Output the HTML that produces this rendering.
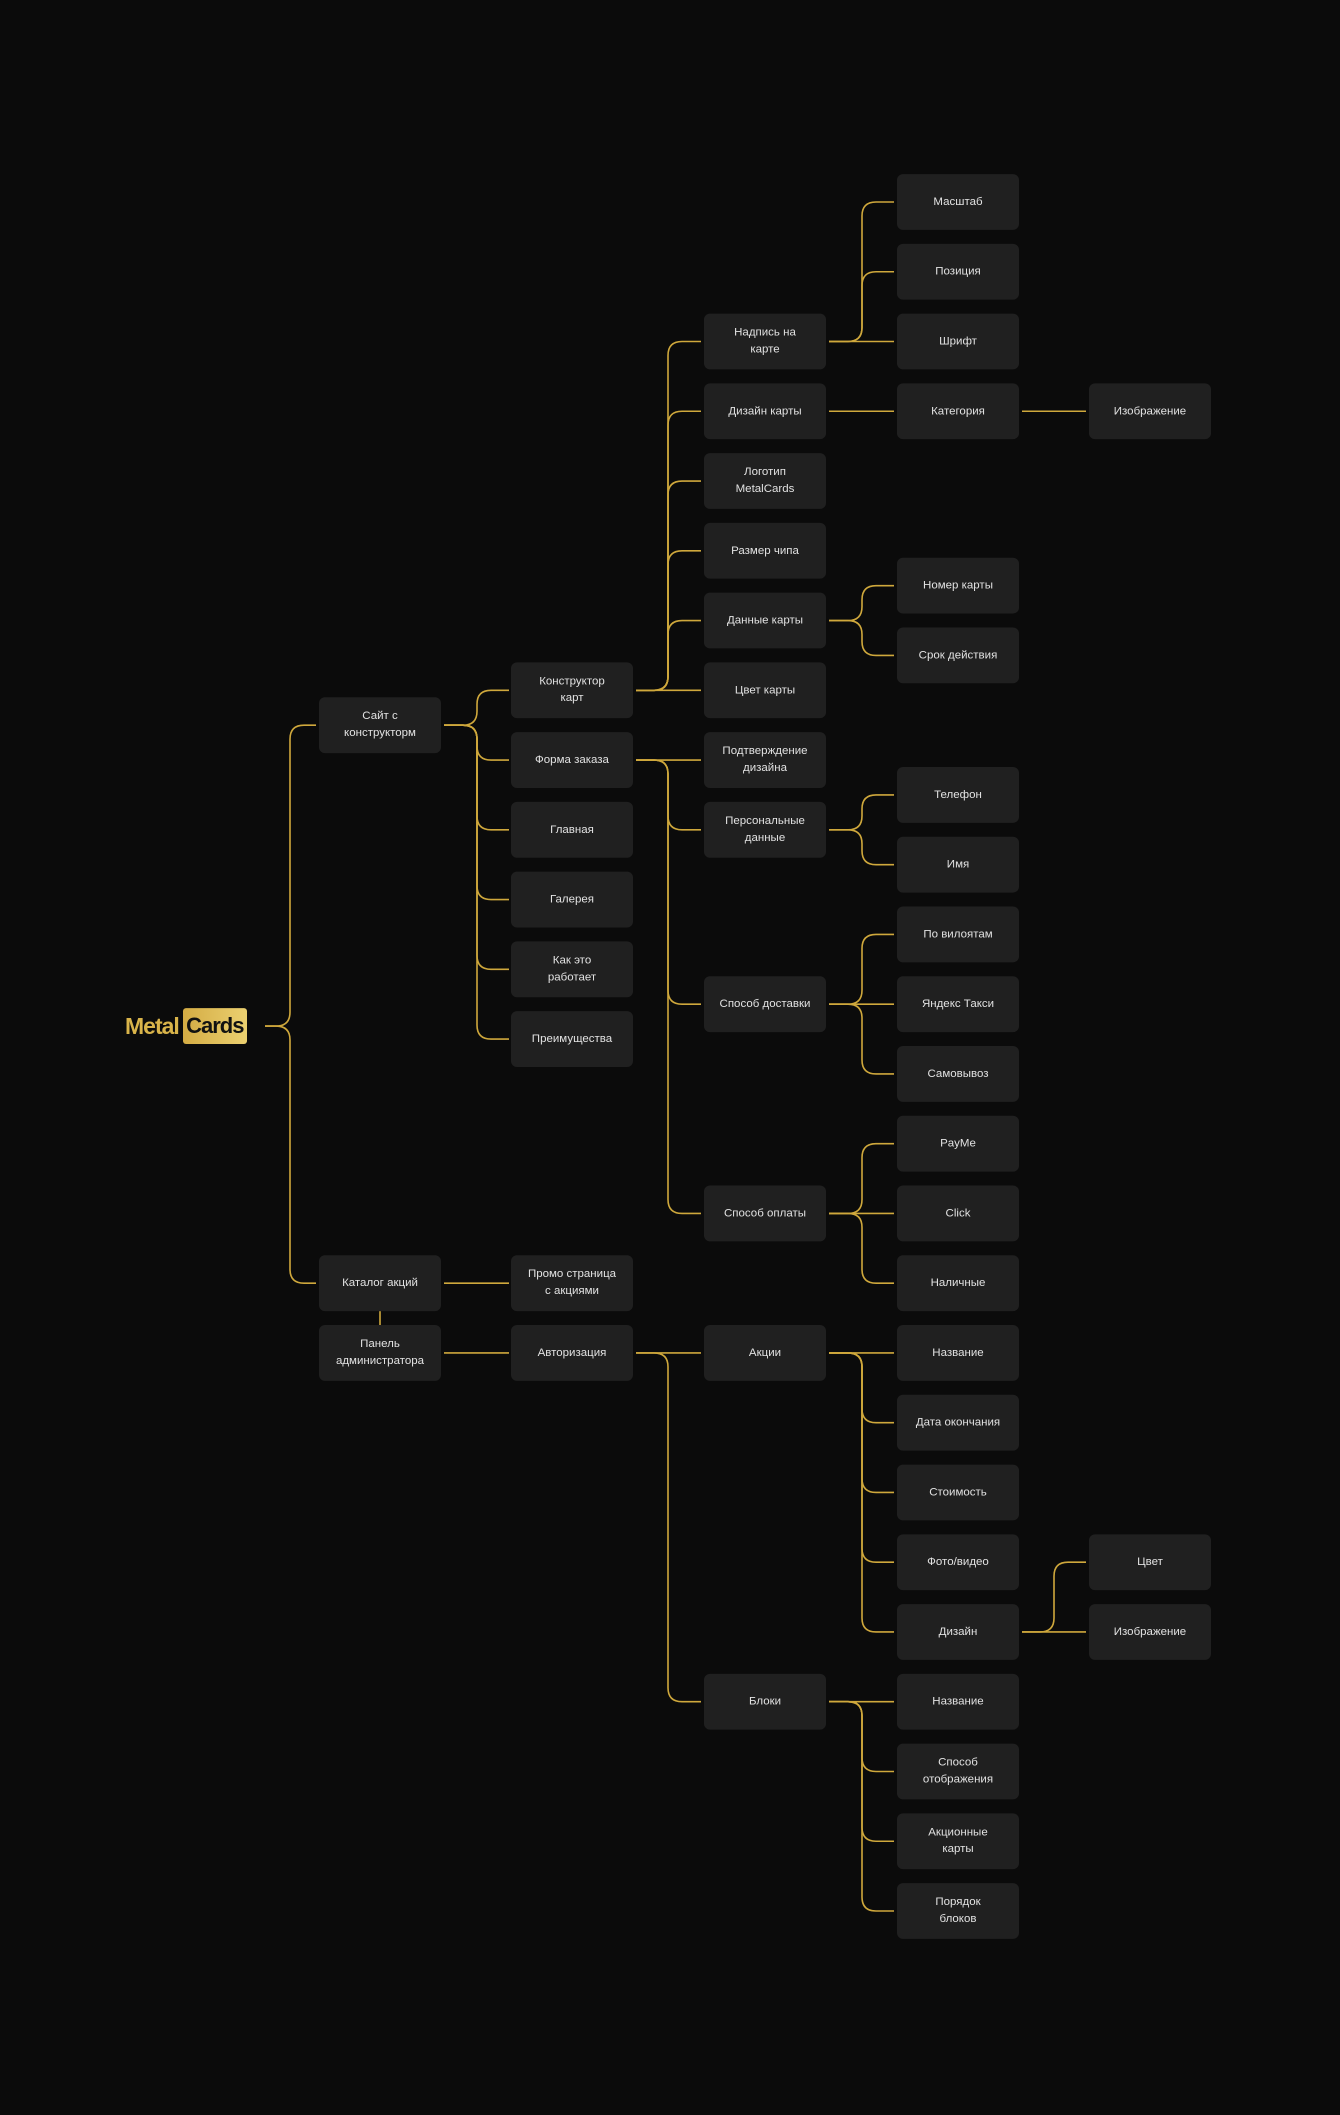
<!DOCTYPE html>
<html><head><meta charset="utf-8"><style>
html,body{margin:0;padding:0;background:#0b0b0b;}
body{width:1340px;height:2115px;position:relative;overflow:hidden;font-family:"Liberation Sans",sans-serif;}
#w{position:absolute;left:0;top:0;width:1340px;height:2115px;transform:scaleY(0.9965);transform-origin:0 202px;}
.b{position:absolute;width:122px;height:56px;background:#202020;border-radius:6px;color:#e2e2e2;font-size:11.5px;line-height:17px;display:flex;align-items:center;justify-content:center;text-align:center;}
svg{position:absolute;left:0;top:0;}
.logo{position:absolute;left:125px;top:1011px;height:36px;display:flex;align-items:center;font-weight:bold;font-size:22px;letter-spacing:-1px;}
.logo .m{color:#d9b44a;margin-right:4px;font-size:23px;}
.logo .c{background:linear-gradient(90deg,#d4ac44,#ebd070);color:#111;height:36px;width:64px;border-radius:3px;display:flex;align-items:center;justify-content:center;}
</style></head><body><div id="w">
<svg width="1340" height="2115" fill="none" stroke="#cfa83c" stroke-width="1.6">
<path d="M265 1029H276Q290 1029 290 1015V741Q290 727 304 727H316"/>
<path d="M265 1029H276Q290 1029 290 1043V1273Q290 1287 304 1287H316"/>
<path d="M444 727H463Q477 727 477 713V706Q477 692 491 692H509"/>
<path d="M444 727H463Q477 727 477 741V748Q477 762 491 762H509"/>
<path d="M444 727H463Q477 727 477 741V818Q477 832 491 832H509"/>
<path d="M444 727H463Q477 727 477 741V888Q477 902 491 902H509"/>
<path d="M444 727H463Q477 727 477 741V958Q477 972 491 972H509"/>
<path d="M444 727H463Q477 727 477 741V1028Q477 1042 491 1042H509"/>
<path d="M636 692H654Q668 692 668 678V356Q668 342 682 342H701"/>
<path d="M636 692H654Q668 692 668 678V426Q668 412 682 412H701"/>
<path d="M636 692H654Q668 692 668 678V496Q668 482 682 482H701"/>
<path d="M636 692H654Q668 692 668 678V566Q668 552 682 552H701"/>
<path d="M636 692H654Q668 692 668 678V636Q668 622 682 622H701"/>
<path d="M636 692H701"/>
<path d="M636 762H701"/>
<path d="M636 762H654Q668 762 668 776V818Q668 832 682 832H701"/>
<path d="M636 762H654Q668 762 668 776V993Q668 1007 682 1007H701"/>
<path d="M636 762H654Q668 762 668 776V1203Q668 1217 682 1217H701"/>
<path d="M829 342H848Q862 342 862 328V216Q862 202 876 202H894"/>
<path d="M829 342H848Q862 342 862 328V286Q862 272 876 272H894"/>
<path d="M829 342H894"/>
<path d="M829 412H894"/><path d="M1022 412H1086"/>
<path d="M829 622H848Q862 622 862 608V601Q862 587 876 587H894"/>
<path d="M829 622H848Q862 622 862 636V643Q862 657 876 657H894"/>
<path d="M829 832H848Q862 832 862 818V811Q862 797 876 797H894"/>
<path d="M829 832H848Q862 832 862 846V853Q862 867 876 867H894"/>
<path d="M829 1007H848Q862 1007 862 993V951Q862 937 876 937H894"/>
<path d="M829 1007H894"/>
<path d="M829 1007H848Q862 1007 862 1021V1063Q862 1077 876 1077H894"/>
<path d="M829 1217H848Q862 1217 862 1203V1161Q862 1147 876 1147H894"/>
<path d="M829 1217H894"/>
<path d="M829 1217H848Q862 1217 862 1231V1273Q862 1287 876 1287H894"/>
<path d="M444 1287H509"/><path d="M444 1357H509"/><path d="M380 1315V1329"/>
<path d="M636 1357H701"/>
<path d="M636 1357H654Q668 1357 668 1371V1693Q668 1707 682 1707H701"/>
<path d="M829 1357H894"/>
<path d="M829 1357H848Q862 1357 862 1371V1413Q862 1427 876 1427H894"/>
<path d="M829 1357H848Q862 1357 862 1371V1483Q862 1497 876 1497H894"/>
<path d="M829 1357H848Q862 1357 862 1371V1553Q862 1567 876 1567H894"/>
<path d="M829 1357H848Q862 1357 862 1371V1623Q862 1637 876 1637H894"/>
<path d="M829 1707H894"/>
<path d="M829 1707H848Q862 1707 862 1721V1763Q862 1777 876 1777H894"/>
<path d="M829 1707H848Q862 1707 862 1721V1833Q862 1847 876 1847H894"/>
<path d="M829 1707H848Q862 1707 862 1721V1903Q862 1917 876 1917H894"/>
<path d="M1022 1637H1040Q1054 1637 1054 1623V1581Q1054 1567 1068 1567H1086"/>
<path d="M1022 1637H1086"/>
</svg>
<div class="logo"><span class="m">Metal</span><span class="c">Cards</span></div>

<div class="b" style="left:319px;top:699px">Сайт с<br>конструкторм</div>
<div class="b" style="left:319px;top:1259px">Каталог акций</div>
<div class="b" style="left:319px;top:1329px">Панель<br>администратора</div>

<div class="b" style="left:511px;top:664px">Конструктор<br>карт</div>
<div class="b" style="left:511px;top:734px">Форма заказа</div>
<div class="b" style="left:511px;top:804px">Главная</div>
<div class="b" style="left:511px;top:874px">Галерея</div>
<div class="b" style="left:511px;top:944px">Как это<br>работает</div>
<div class="b" style="left:511px;top:1014px">Преимущества</div>
<div class="b" style="left:511px;top:1259px">Промо страница<br>с акциями</div>
<div class="b" style="left:511px;top:1329px">Авторизация</div>

<div class="b" style="left:704px;top:314px">Надпись на<br>карте</div>
<div class="b" style="left:704px;top:384px">Дизайн карты</div>
<div class="b" style="left:704px;top:454px">Логотип<br>MetalCards</div>
<div class="b" style="left:704px;top:524px">Размер чипа</div>
<div class="b" style="left:704px;top:594px">Данные карты</div>
<div class="b" style="left:704px;top:664px">Цвет карты</div>
<div class="b" style="left:704px;top:734px">Подтверждение<br>дизайна</div>
<div class="b" style="left:704px;top:804px">Персональные<br>данные</div>
<div class="b" style="left:704px;top:979px">Способ доставки</div>
<div class="b" style="left:704px;top:1189px">Способ оплаты</div>
<div class="b" style="left:704px;top:1329px">Акции</div>
<div class="b" style="left:704px;top:1679px">Блоки</div>

<div class="b" style="left:897px;top:174px">Масштаб</div>
<div class="b" style="left:897px;top:244px">Позиция</div>
<div class="b" style="left:897px;top:314px">Шрифт</div>
<div class="b" style="left:897px;top:384px">Категория</div>
<div class="b" style="left:897px;top:559px">Номер карты</div>
<div class="b" style="left:897px;top:629px">Срок действия</div>
<div class="b" style="left:897px;top:769px">Телефон</div>
<div class="b" style="left:897px;top:839px">Имя</div>
<div class="b" style="left:897px;top:909px">По вилоятам</div>
<div class="b" style="left:897px;top:979px">Яндекс Такси</div>
<div class="b" style="left:897px;top:1049px">Самовывоз</div>
<div class="b" style="left:897px;top:1119px">PayMe</div>
<div class="b" style="left:897px;top:1189px">Click</div>
<div class="b" style="left:897px;top:1259px">Наличные</div>
<div class="b" style="left:897px;top:1329px">Название</div>
<div class="b" style="left:897px;top:1399px">Дата окончания</div>
<div class="b" style="left:897px;top:1469px">Стоимость</div>
<div class="b" style="left:897px;top:1539px">Фото/видео</div>
<div class="b" style="left:897px;top:1609px">Дизайн</div>
<div class="b" style="left:897px;top:1679px">Название</div>
<div class="b" style="left:897px;top:1749px">Способ<br>отображения</div>
<div class="b" style="left:897px;top:1819px">Акционные<br>карты</div>
<div class="b" style="left:897px;top:1889px">Порядок<br>блоков</div>

<div class="b" style="left:1089px;top:384px">Изображение</div>
<div class="b" style="left:1089px;top:1539px">Цвет</div>
<div class="b" style="left:1089px;top:1609px">Изображение</div>
</div></body></html>
